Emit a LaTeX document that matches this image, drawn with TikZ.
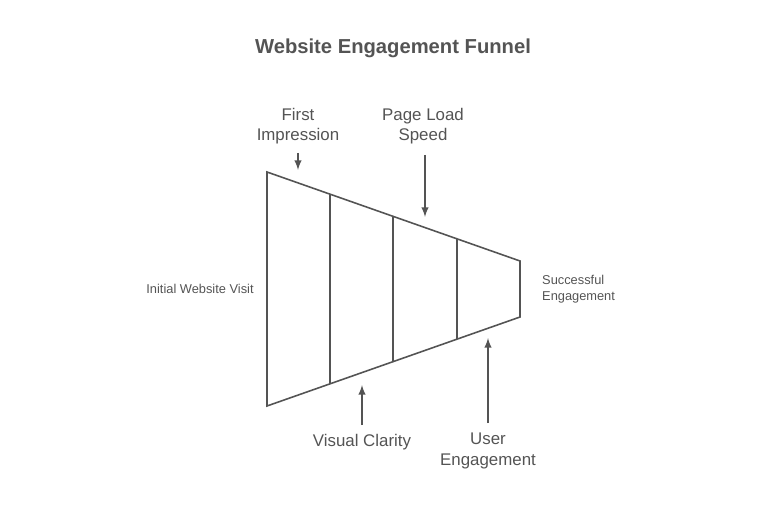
\documentclass[tikz,border=0pt]{standalone}
\usepackage{fontspec}
\setmainfont{Liberation Sans}
\begin{document}
\begin{tikzpicture}[x=0.02cm,y=-0.02cm,
  every node/.style={text=black!67, align=center, font=\fontsize{9.6}{11.5}\selectfont},
  edge/.style={draw=black!67, line width=0.9pt},
  pointer/.style={draw=black!67, line width=0.9pt, -latex}]
  \useasboundingbox (0,0) rectangle (760,506);
  % Title
  \node[font=\bfseries\fontsize{11.5}{13}\selectfont] (title) at (393,48) {Website Engagement Funnel};
  % Funnel outline
  \coordinate (lt) at (267,172);
  \coordinate (lb) at (267,406);
  \coordinate (rt) at (520,261);
  \coordinate (rb) at (520,317);
  \draw[edge] (lt) -- (rt) -- (rb) -- (lb) -- cycle;
  % Stage dividers
  \foreach \x in {330,393,457} {
    \draw[edge] (\x,{172+(\x-267)/253*89}) -- (\x,{406-(\x-267)/253*89});
  }
  % Side labels
  \node[font=\fontsize{7.3}{9.3}\selectfont] (start) at (200,289) {Initial Website Visit};
  \node[font=\fontsize{7.3}{9.3}\selectfont, align=left, anchor=west] (finish) at (536,289) {Successful\\Engagement};
  % Top factors
  \node (n1) at (298,126) {First\\Impression};
  \node (n2) at (423,126) {Page Load\\Speed};
  \coordinate (t1) at (298,170);
  \coordinate (t2) at (425,217);
  \draw[pointer] (298,153) -- (t1);
  \draw[pointer] (425,155) -- (t2);
  % Bottom factors
  \node (n3) at (362,442) {Visual Clarity};
  \node (n4) at (488,451) {User\\Engagement};
  \coordinate (t3) at (362,385);
  \coordinate (t4) at (488,338);
  \draw[pointer] (362,425) -- (t3);
  \draw[pointer] (488,423) -- (t4);
\end{tikzpicture}
\end{document}
